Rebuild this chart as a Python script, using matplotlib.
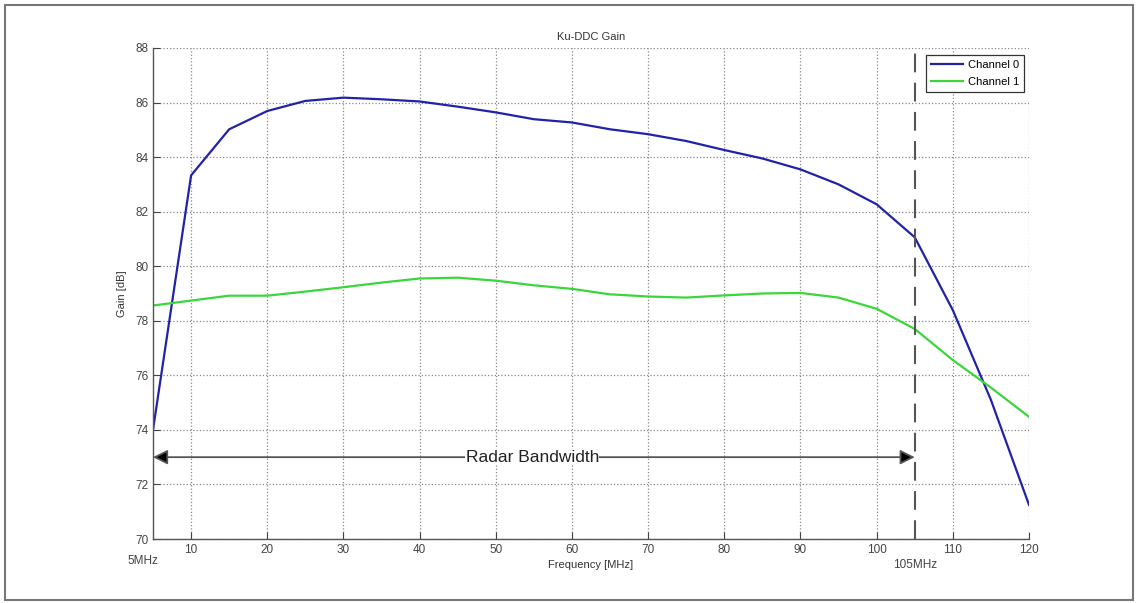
import numpy as np
import matplotlib
matplotlib.use('Agg')
import matplotlib.pyplot as plt
from matplotlib.patches import Rectangle

plt.rcParams['font.family'] = ['Liberation Sans', 'DejaVu Sans']

freq = [5, 10, 15, 20, 25, 30, 35, 40, 45, 50, 55, 60, 65, 70, 75, 80, 85, 90,
        95, 100, 105, 110, 115, 120]
ch0 = [74.0, 83.33, 85.02, 85.69, 86.06, 86.18, 86.12, 86.04, 85.85, 85.64,
       85.39, 85.27, 85.02, 84.84, 84.59, 84.26, 83.95, 83.55, 83.0, 82.27,
       81.06, 78.39, 75.1, 71.25]
ch1 = [78.56, 78.74, 78.92, 78.92, 79.07, 79.23, 79.4, 79.55, 79.58, 79.47,
       79.3, 79.17, 78.97, 78.89, 78.85, 78.93, 79.0, 79.02, 78.85, 78.44,
       77.7, 76.56, 75.55, 74.48]

xticks = [10, 20, 30, 40, 50, 60, 70, 80, 90, 100, 110, 120]
yticks = [70, 72, 74, 76, 78, 80, 82, 84, 86, 88]

fig = plt.figure(figsize=(11.36, 6.03), dpi=100)
ax = fig.add_axes([153/1136, 1 - 539/603, (1029 - 153)/1136, (539 - 48)/603])

ax.plot(freq, ch0, color='#2222a8', linewidth=1.6, label='Channel 0')
ax.plot(freq, ch1, color='#3ad63a', linewidth=1.6, label='Channel 1')

ax.set_xlim(5, 120)
ax.set_ylim(70, 88)
ax.set_xticks(xticks)
ax.set_yticks(yticks)
ax.grid(True, linestyle=':', color='#888888', linewidth=0.9)
for s in ['top', 'right']:
    ax.spines[s].set_visible(False)
for s in ['left', 'bottom']:
    ax.spines[s].set_color('#555555')
    ax.spines[s].set_linewidth(1.0)
ax.tick_params(direction='in', length=5, colors='#444444', labelsize=8.5)

# band edge marker
ax.axvline(105, color='#555555', linestyle=(0, (9, 5)), linewidth=1.5)

# radar bandwidth arrow
ax.annotate('', xy=(5, 73), xytext=(105, 73),
            arrowprops=dict(arrowstyle='<|-|>', color='#555555', lw=1.3,
                            mutation_scale=22, shrinkA=0, shrinkB=0,
                            fc='black'))
ax.text(54.8, 73, 'Radar Bandwidth', ha='center', va='center', fontsize=12.5,
        color='#222222', bbox=dict(facecolor='white', edgecolor='none', pad=0.3))

trans = ax.get_xaxis_transform()
ax.text(3.7, -0.045, '5MHz', transform=trans, ha='center', va='center',
        fontsize=8.5, color='#444444')
ax.text(105, -0.052, '105MHz', transform=trans, ha='center', va='center',
        fontsize=8.5, color='#444444')

ax.set_title('Ku-DDC Gain', fontsize=8, color='#333333', pad=6)
ax.set_xlabel('Frequency [MHz]', fontsize=8, color='#333333', labelpad=3)
ax.set_ylabel('Gain [dB]', fontsize=8, color='#333333', labelpad=6)

leg = ax.legend(loc='upper right', bbox_to_anchor=(1024/1136, 1 - 55/603),
                bbox_transform=fig.transFigure, borderaxespad=0,
                fontsize=8, fancybox=False, framealpha=1,
                edgecolor='#333333', handlelength=2.9, handletextpad=0.4,
                labelspacing=0.6, borderpad=0.45)
leg.get_frame().set_linewidth(0.9)

fig.patches.append(Rectangle((5/1136, 3/603), 1128/1136, 595/603,
                             transform=fig.transFigure, fill=False,
                             edgecolor='#777777', linewidth=1.5))

fig.savefig('out.png', dpi=100)
